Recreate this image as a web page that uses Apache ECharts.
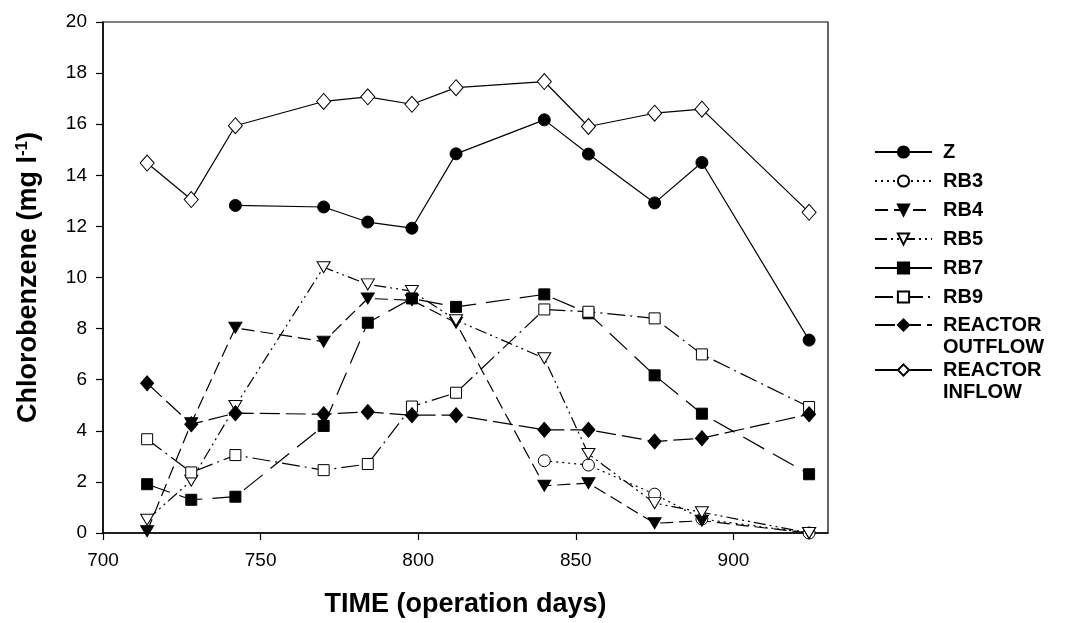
<!DOCTYPE html>
<html>
<head>
<meta charset="utf-8">
<script src="https://cdn.jsdelivr.net/npm/echarts@6/dist/echarts.min.js"></script>
<style>html,body{margin:0;padding:0;background:#fff;}#c{width:1068px;height:623px;}</style>
</head>
<body>
<div id="c"></div>
<script>
const days = [714, 728, 742, 770, 784, 798, 812, 840, 854, 875, 890, 924];
const zVals = [null, null, 12.82, 12.76, 12.17, 11.93, 14.84, 16.17, 14.83, 12.92, 14.5, 7.55];
const rb3Vals = [null, null, null, null, null, null, null, 2.83, 2.66, 1.52, 0.55, 0];
const rb4Vals = [0.07, 4.3, 8.03, 7.49, 9.18, 9.11, 8.23, 1.85, 1.95, 0.38, 0.48, 0];
const rb5Vals = [0.52, 2.05, 4.97, 10.4, 9.73, 9.47, 8.33, 6.84, 3.09, 1.17, 0.81, 0];
const rb7Vals = [1.91, 1.3, 1.42, 4.19, 8.23, 9.18, 8.85, 9.34, 8.6, 6.17, 4.67, 2.3];
const rb9Vals = [3.67, 2.37, 3.05, 2.46, 2.7, 4.95, 5.49, 8.75, 8.66, 8.4, 6.99, 4.93];
const outflowVals = [5.86, 4.26, 4.69, 4.65, 4.74, 4.61, 4.61, 4.04, 4.04, 3.58, 3.71, 4.65];
const inflowVals = [14.48, 13.05, 15.94, 16.89, 17.07, 16.78, 17.43, 17.67, 15.91, 16.43, 16.59, 12.55];
const yTicks = [0, 2, 4, 6, 8, 10, 12, 14, 16, 18, 20];
const xTicks = [700, 750, 800, 850, 900];

function pairs(vals) {
  const out = [];
  vals.forEach((v, i) => { if (v !== null) out.push([days[i], v]); });
  return out;
}

const FONT = '"Liberation Sans", Arial, sans-serif';
const tri = 'path://M0,0 L10,0 L5,9 Z';

function mk(name, vals, symbol, filled, size, dash) {
  return {
    name: name, type: 'line', data: pairs(vals),
    symbol: symbol, symbolSize: size,
    showAllSymbol: true,
    lineStyle: { color: '#000', width: 1.2, type: dash },
    itemStyle: { color: filled ? '#000' : '#fff', borderColor: '#000', borderWidth: 1 },
    emphasis: { disabled: true },
    animation: false, z: 2
  };
}

const series = [
  mk('Z', zVals, 'circle', true, 12, 'solid'),
  mk('RB3', rb3Vals, 'circle', false, 12, [2, 4]),
  mk('RB4', rb4Vals, tri, true, [13, 11], [13, 6]),
  mk('RB5', rb5Vals, tri, false, [13, 11], [12, 4, 2, 4, 2, 4]),
  mk('RB7', rb7Vals, 'rect', true, 11, [24, 10]),
  mk('RB9', rb9Vals, 'rect', false, 11, [18, 5, 2, 5]),
  mk('REACTOR OUTFLOW', outflowVals, 'diamond', true, [13, 15], [20, 6]),
  mk('REACTOR INFLOW', inflowVals, 'diamond', false, [14, 16], 'solid')
];

const legendText = { fontFamily: FONT, fontSize: 20, fontWeight: 'bold', color: '#000', lineHeight: 22, padding: [0, 0, 0, 6] };
const legendBase = {
  orient: 'vertical', left: 874, padding: 0,
  itemWidth: 57, itemHeight: 14, itemGap: 7,
  textStyle: legendText,
  selectedMode: false
};

const option = {
  backgroundColor: '#fff',
  animation: false,
  grid: { left: 103, right: 240, top: 22, bottom: 89, show: true, borderColor: '#000', borderWidth: 1.2, backgroundColor: 'transparent' },
  xAxis: {
    type: 'value', min: 700, max: 930, interval: 50,
    name: 'TIME (operation days)', nameLocation: 'middle', nameGap: 58,
    nameTextStyle: { fontFamily: FONT, fontSize: 27, fontWeight: 'bold', color: '#000' },
    axisLine: { show: true, lineStyle: { color: '#000', width: 1.5 } },
    axisTick: { show: true, inside: false, length: 7, lineStyle: { color: '#000', width: 1.2 } },
    axisLabel: { fontFamily: FONT, fontSize: 19, color: '#000', margin: 18, showMaxLabel: false,
      formatter: v => xTicks.includes(v) ? String(v) : '' },
    splitLine: { show: false }
  },
  yAxis: {
    type: 'value', min: 0, max: 20, interval: 2,
    name: 'Chlorobenzene (mg l{sup|-1})', nameLocation: 'middle', nameGap: 60, nameRotate: 90,
    nameTextStyle: { fontFamily: FONT, fontSize: 27, fontWeight: 'bold', color: '#000',
      rich: { sup: { fontFamily: FONT, fontSize: 17, fontWeight: 'bold', color: '#000', verticalAlign: 'top', padding: [0, 0, 12, 0] } } },
    axisLine: { show: true, lineStyle: { color: '#000', width: 1.5 } },
    axisTick: { show: true, inside: false, length: 7, lineStyle: { color: '#000', width: 1.2 } },
    axisLabel: { fontFamily: FONT, fontSize: 19, color: '#000', margin: 16,
      formatter: v => yTicks.includes(v) ? String(v) : '' },
    splitLine: { show: false }
  },
  legend: [
    Object.assign({}, legendBase, { top: 141, data: ['Z', 'RB3', 'RB4', 'RB5', 'RB7', 'RB9'] }),
    Object.assign({}, legendBase, { top: 292, data: ['REACTOR OUTFLOW'],
      formatter: n => '\n' + n.replace(' ', '\n') }),
    Object.assign({}, legendBase, { top: 337, data: ['REACTOR INFLOW'],
      formatter: n => '\n' + n.replace(' ', '\n') })
  ],
  series: series
};

const chart = echarts.init(document.getElementById('c'), null, { renderer: 'canvas' });
chart.setOption(option);
</script>
</body>
</html>
